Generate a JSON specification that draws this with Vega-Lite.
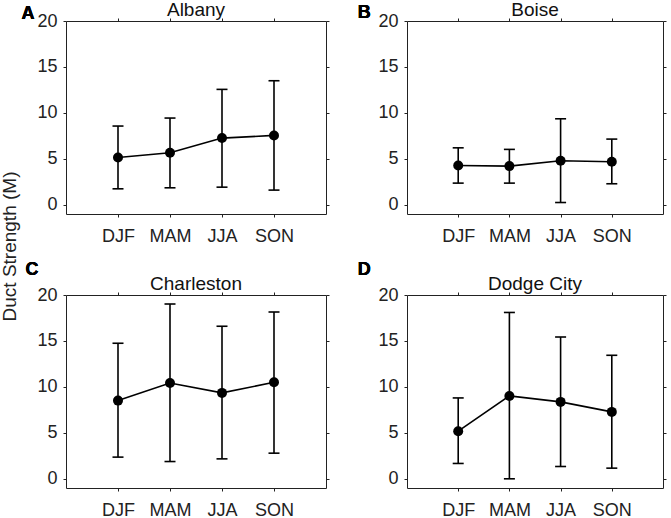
{
  "$schema": "https://vega.github.io/schema/vega-lite/v6.json",
  "padding": {"left": 0, "top": 0, "right": 5, "bottom": 0},
  "data": {
    "values": [
      {"city": "Albany", "season": "DJF", "mean": 5.15, "lo": 1.74, "hi": 8.57},
      {"city": "Albany", "season": "MAM", "mean": 5.66, "lo": 1.85, "hi": 9.44},
      {"city": "Albany", "season": "JJA", "mean": 7.26, "lo": 1.92, "hi": 12.56},
      {"city": "Albany", "season": "SON", "mean": 7.55, "lo": 1.6, "hi": 13.5},
      {"city": "Boise", "season": "DJF", "mean": 4.28, "lo": 2.36, "hi": 6.2},
      {"city": "Boise", "season": "MAM", "mean": 4.21, "lo": 2.36, "hi": 6.03},
      {"city": "Boise", "season": "JJA", "mean": 4.79, "lo": 0.25, "hi": 9.36},
      {"city": "Boise", "season": "SON", "mean": 4.68, "lo": 2.29, "hi": 7.15},
      {"city": "Charleston", "season": "DJF", "mean": 8.51, "lo": 2.36, "hi": 14.75},
      {"city": "Charleston", "season": "MAM", "mean": 10.43, "lo": 1.88, "hi": 19.02},
      {"city": "Charleston", "season": "JJA", "mean": 9.35, "lo": 2.17, "hi": 16.6},
      {"city": "Charleston", "season": "SON", "mean": 10.5, "lo": 2.79, "hi": 18.15},
      {"city": "Dodge City", "season": "DJF", "mean": 5.18, "lo": 1.67, "hi": 8.8},
      {"city": "Dodge City", "season": "MAM", "mean": 9.02, "lo": 0, "hi": 18.1},
      {"city": "Dodge City", "season": "JJA", "mean": 8.37, "lo": 1.34, "hi": 15.43},
      {"city": "Dodge City", "season": "SON", "mean": 7.28, "lo": 1.16, "hi": 13.44}
    ]
  },
  "config": {
    "font": "Liberation Sans",
    "view": {"stroke": "#222", "strokeWidth": 1},
    "axis": {
      "domain": false, "grid": false, "tickSize": 3, "tickColor": "#222",
      "labelColor": "#222", "labelFontSize": 18, "titleColor": "#222",
      "titleFontSize": 19, "titleFontWeight": "normal", "labelFlush": false
    },
    "axisX": {"labelPadding": 10, "labelAngle": 0},
    "axisY": {"labelPadding": 6},
    "title": {"fontSize": 19, "fontWeight": "normal", "color": "#111", "baseline": "alphabetic"}
  },
  "columns": 2,
  "spacing": {"row": 81, "column": 81},
  "bounds": "flush",
  "concat": [
    {
      "width": 260, "height": 193,
      "title": {"text": "Albany", "offset": -15},
      "transform": [{"filter": "datum.city === 'Albany'"}],
      "layer": [
        {"mark": {"type": "rule", "color": "black", "strokeWidth": 1.6},
         "encoding": {
           "x": {"field": "season", "type": "ordinal", "sort": ["DJF", "MAM", "JJA", "SON"], "scale": {"type": "point", "padding": 1}, "axis": {"title": null}},
           "y": {"field": "lo", "type": "quantitative", "scale": {"domain": [-1, 20], "nice": false, "zero": false}, "axis": {"values": [0, 5, 10, 15, 20], "title": "Duct Strength (M)", "titleY": 225, "titlePadding": 17}},
           "y2": {"field": "hi"}}},
        {"mark": {"type": "tick", "orient": "horizontal", "size": 11, "thickness": 1.6, "color": "black", "opacity": 1},
         "encoding": {
           "x": {"field": "season", "type": "ordinal", "sort": ["DJF", "MAM", "JJA", "SON"], "axis": null},
           "y": {"field": "lo", "type": "quantitative", "axis": null}}},
        {"mark": {"type": "tick", "orient": "horizontal", "size": 11, "thickness": 1.6, "color": "black", "opacity": 1},
         "encoding": {
           "x": {"field": "season", "type": "ordinal", "sort": ["DJF", "MAM", "JJA", "SON"], "axis": null},
           "y": {"field": "hi", "type": "quantitative", "axis": null}}},
        {"mark": {"type": "line", "color": "black", "strokeWidth": 1.6},
         "encoding": {
           "x": {"field": "season", "type": "ordinal", "sort": ["DJF", "MAM", "JJA", "SON"], "axis": {"orient": "top", "labels": false, "title": null}},
           "y": {"field": "mean", "type": "quantitative", "axis": {"orient": "right", "labels": false, "values": [0, 5, 10, 15, 20], "title": null}}}},
        {"mark": {"type": "circle", "size": 100, "color": "black", "opacity": 1},
         "encoding": {
           "x": {"field": "season", "type": "ordinal", "sort": ["DJF", "MAM", "JJA", "SON"], "axis": null},
           "y": {"field": "mean", "type": "quantitative", "axis": null}}},
        {"mark": {"type": "text", "text": "A", "fontSize": 18, "fontWeight": "bold", "color": "black", "align": "center", "baseline": "alphabetic", "dx": -90, "dy": -2},
         "encoding": {
           "x": {"datum": "DJF", "type": "ordinal", "axis": null},
           "y": {"datum": 20, "type": "quantitative", "axis": null}}}
      ],
      "resolve": {"axis": {"x": "independent", "y": "independent"}}
    },
    {
      "width": 256, "height": 193,
      "title": {"text": "Boise", "offset": -16},
      "transform": [{"filter": "datum.city === 'Boise'"}],
      "layer": [
        {"mark": {"type": "rule", "color": "black", "strokeWidth": 1.6},
         "encoding": {
           "x": {"field": "season", "type": "ordinal", "sort": ["DJF", "MAM", "JJA", "SON"], "scale": {"type": "point", "padding": 1}, "axis": {"title": null}},
           "y": {"field": "lo", "type": "quantitative", "scale": {"domain": [-1, 20], "nice": false, "zero": false}, "axis": {"values": [0, 5, 10, 15, 20], "title": null}},
           "y2": {"field": "hi"}}},
        {"mark": {"type": "tick", "orient": "horizontal", "size": 11, "thickness": 1.6, "color": "black", "opacity": 1},
         "encoding": {
           "x": {"field": "season", "type": "ordinal", "sort": ["DJF", "MAM", "JJA", "SON"], "axis": null},
           "y": {"field": "lo", "type": "quantitative", "axis": null}}},
        {"mark": {"type": "tick", "orient": "horizontal", "size": 11, "thickness": 1.6, "color": "black", "opacity": 1},
         "encoding": {
           "x": {"field": "season", "type": "ordinal", "sort": ["DJF", "MAM", "JJA", "SON"], "axis": null},
           "y": {"field": "hi", "type": "quantitative", "axis": null}}},
        {"mark": {"type": "line", "color": "black", "strokeWidth": 1.6},
         "encoding": {
           "x": {"field": "season", "type": "ordinal", "sort": ["DJF", "MAM", "JJA", "SON"], "axis": {"orient": "top", "labels": false, "title": null}},
           "y": {"field": "mean", "type": "quantitative", "axis": {"orient": "right", "labels": false, "values": [0, 5, 10, 15, 20], "title": null}}}},
        {"mark": {"type": "circle", "size": 100, "color": "black", "opacity": 1},
         "encoding": {
           "x": {"field": "season", "type": "ordinal", "sort": ["DJF", "MAM", "JJA", "SON"], "axis": null},
           "y": {"field": "mean", "type": "quantitative", "axis": null}}},
        {"mark": {"type": "text", "text": "B", "fontSize": 18, "fontWeight": "bold", "color": "black", "align": "center", "baseline": "alphabetic", "dx": -94, "dy": -3},
         "encoding": {
           "x": {"datum": "DJF", "type": "ordinal", "axis": null},
           "y": {"datum": 20, "type": "quantitative", "axis": null}}}
      ],
      "resolve": {"axis": {"x": "independent", "y": "independent"}}
    },
    {
      "width": 260, "height": 193,
      "title": {"text": "Charleston", "offset": -33},
      "transform": [{"filter": "datum.city === 'Charleston'"}],
      "layer": [
        {"mark": {"type": "rule", "color": "black", "strokeWidth": 1.6},
         "encoding": {
           "x": {"field": "season", "type": "ordinal", "sort": ["DJF", "MAM", "JJA", "SON"], "scale": {"type": "point", "padding": 1}, "axis": {"title": null}},
           "y": {"field": "lo", "type": "quantitative", "scale": {"domain": [-1, 20], "nice": false, "zero": false}, "axis": {"values": [0, 5, 10, 15, 20], "title": null}},
           "y2": {"field": "hi"}}},
        {"mark": {"type": "tick", "orient": "horizontal", "size": 11, "thickness": 1.6, "color": "black", "opacity": 1},
         "encoding": {
           "x": {"field": "season", "type": "ordinal", "sort": ["DJF", "MAM", "JJA", "SON"], "axis": null},
           "y": {"field": "lo", "type": "quantitative", "axis": null}}},
        {"mark": {"type": "tick", "orient": "horizontal", "size": 11, "thickness": 1.6, "color": "black", "opacity": 1},
         "encoding": {
           "x": {"field": "season", "type": "ordinal", "sort": ["DJF", "MAM", "JJA", "SON"], "axis": null},
           "y": {"field": "hi", "type": "quantitative", "axis": null}}},
        {"mark": {"type": "line", "color": "black", "strokeWidth": 1.6},
         "encoding": {
           "x": {"field": "season", "type": "ordinal", "sort": ["DJF", "MAM", "JJA", "SON"], "axis": {"orient": "top", "labels": false, "title": null}},
           "y": {"field": "mean", "type": "quantitative", "axis": {"orient": "right", "labels": false, "values": [0, 5, 10, 15, 20], "title": null}}}},
        {"mark": {"type": "circle", "size": 100, "color": "black", "opacity": 1},
         "encoding": {
           "x": {"field": "season", "type": "ordinal", "sort": ["DJF", "MAM", "JJA", "SON"], "axis": null},
           "y": {"field": "mean", "type": "quantitative", "axis": null}}},
        {"mark": {"type": "text", "text": "C", "fontSize": 18, "fontWeight": "bold", "color": "black", "align": "center", "baseline": "alphabetic", "dx": -86, "dy": -20},
         "encoding": {
           "x": {"datum": "DJF", "type": "ordinal", "axis": null},
           "y": {"datum": 20, "type": "quantitative", "axis": null}}}
      ],
      "resolve": {"axis": {"x": "independent", "y": "independent"}}
    },
    {
      "width": 256, "height": 193,
      "title": {"text": "Dodge City", "offset": -33},
      "transform": [{"filter": "datum.city === 'Dodge City'"}],
      "layer": [
        {"mark": {"type": "rule", "color": "black", "strokeWidth": 1.6},
         "encoding": {
           "x": {"field": "season", "type": "ordinal", "sort": ["DJF", "MAM", "JJA", "SON"], "scale": {"type": "point", "padding": 1}, "axis": {"title": null}},
           "y": {"field": "lo", "type": "quantitative", "scale": {"domain": [-1, 20], "nice": false, "zero": false}, "axis": {"values": [0, 5, 10, 15, 20], "title": null}},
           "y2": {"field": "hi"}}},
        {"mark": {"type": "tick", "orient": "horizontal", "size": 11, "thickness": 1.6, "color": "black", "opacity": 1},
         "encoding": {
           "x": {"field": "season", "type": "ordinal", "sort": ["DJF", "MAM", "JJA", "SON"], "axis": null},
           "y": {"field": "lo", "type": "quantitative", "axis": null}}},
        {"mark": {"type": "tick", "orient": "horizontal", "size": 11, "thickness": 1.6, "color": "black", "opacity": 1},
         "encoding": {
           "x": {"field": "season", "type": "ordinal", "sort": ["DJF", "MAM", "JJA", "SON"], "axis": null},
           "y": {"field": "hi", "type": "quantitative", "axis": null}}},
        {"mark": {"type": "line", "color": "black", "strokeWidth": 1.6},
         "encoding": {
           "x": {"field": "season", "type": "ordinal", "sort": ["DJF", "MAM", "JJA", "SON"], "axis": {"orient": "top", "labels": false, "title": null}},
           "y": {"field": "mean", "type": "quantitative", "axis": {"orient": "right", "labels": false, "values": [0, 5, 10, 15, 20], "title": null}}}},
        {"mark": {"type": "circle", "size": 100, "color": "black", "opacity": 1},
         "encoding": {
           "x": {"field": "season", "type": "ordinal", "sort": ["DJF", "MAM", "JJA", "SON"], "axis": null},
           "y": {"field": "mean", "type": "quantitative", "axis": null}}},
        {"mark": {"type": "text", "text": "D", "fontSize": 18, "fontWeight": "bold", "color": "black", "align": "center", "baseline": "alphabetic", "dx": -94, "dy": -20},
         "encoding": {
           "x": {"datum": "DJF", "type": "ordinal", "axis": null},
           "y": {"datum": 20, "type": "quantitative", "axis": null}}}
      ],
      "resolve": {"axis": {"x": "independent", "y": "independent"}}
    }
  ]
}
